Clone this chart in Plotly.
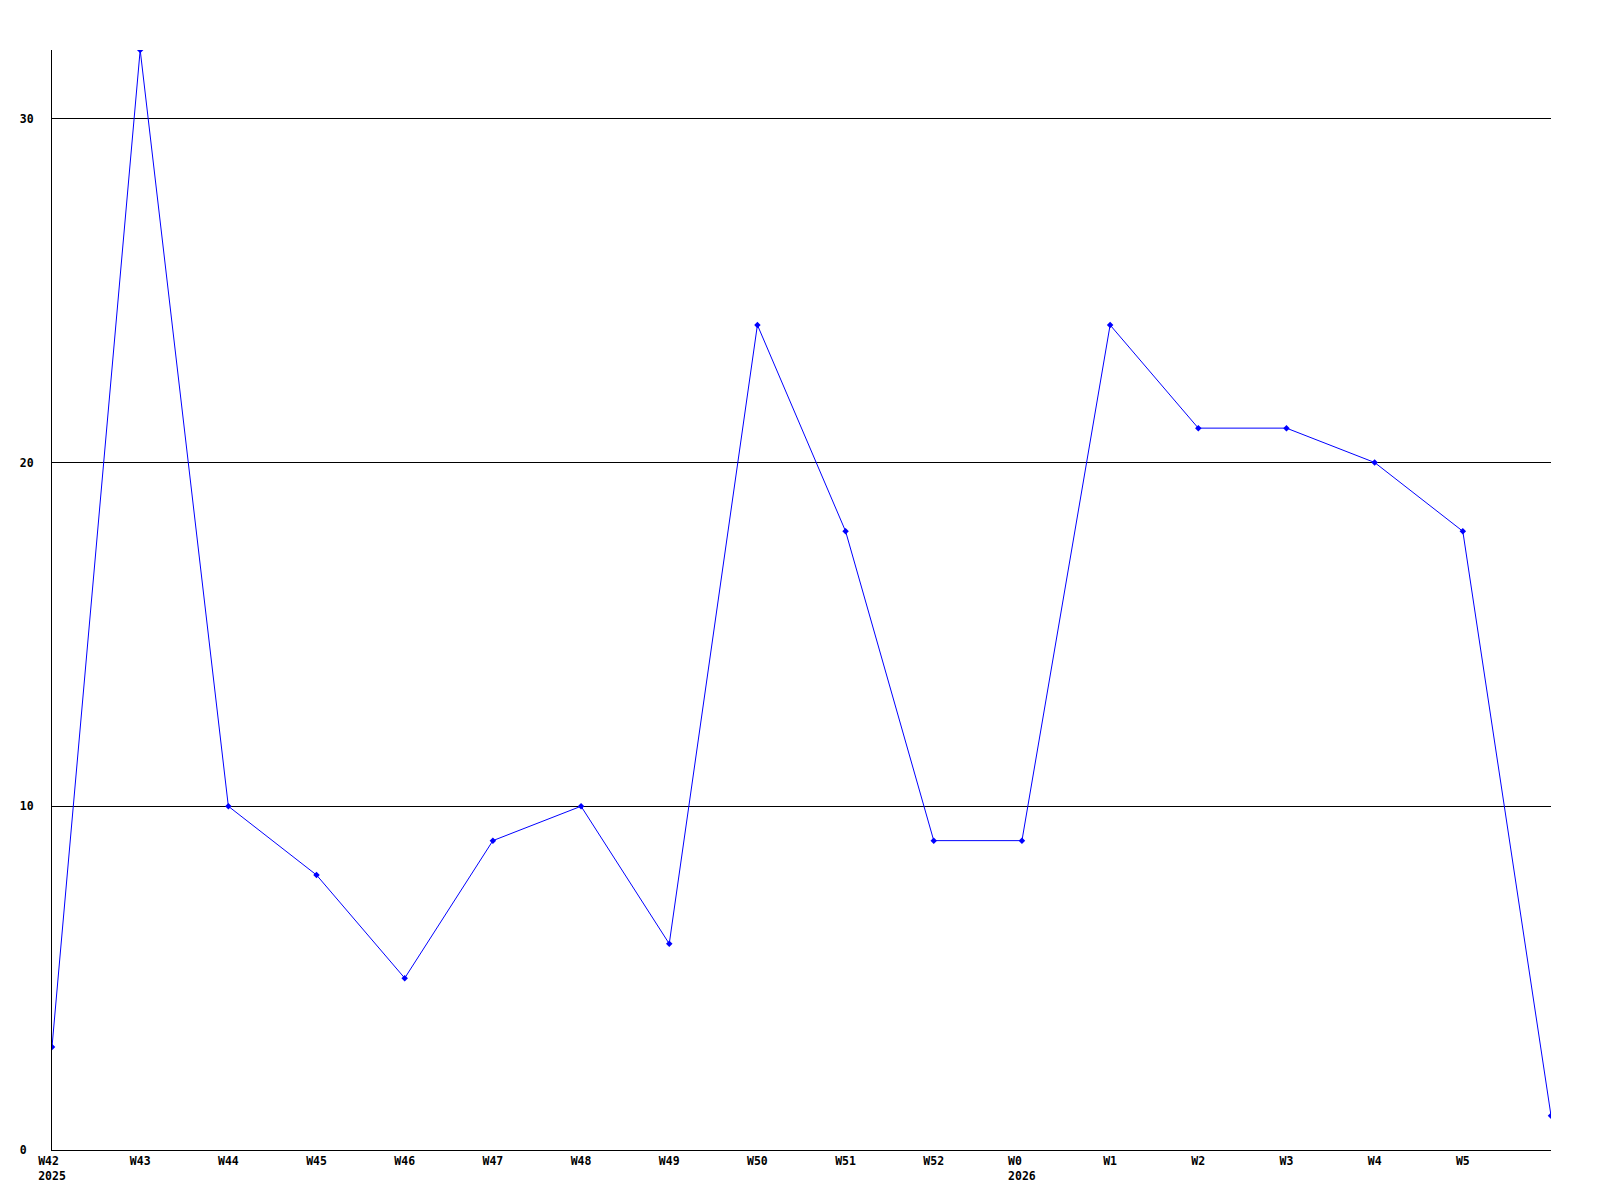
import plotly.graph_objects as go

weeks = ["W42", "W43", "W44", "W45", "W46", "W47", "W48", "W49", "W50", "W51",
         "W52", "W0", "W1", "W2", "W3", "W4", "W5", "W6"]
values = [3, 32, 10, 8, 5, 9, 10, 6, 24, 18, 9, 9, 24, 21, 21, 20, 18, 1]
tick_weeks = weeks[:-1]
tick_labels = ["W42\u00a0<br>2025", "W43", "W44", "W45", "W46", "W47", "W48", "W49",
               "W50", "W51", "W52", "W0\u00a0\u00a0<br>2026", "W1", "W2", "W3", "W4", "W5"]
y_ticks = [0, 10, 20, 30]
y_tick_labels = ["0\u00a0", "10", "20", "30"]

tfont = dict(family="DejaVu Sans Mono", size=11.5, color="black", weight="bold")

fig = go.Figure()
fig.add_trace(go.Scatter(
    x=weeks, y=values, mode="lines+markers",
    line=dict(color="#0000ff", width=1),
    marker=dict(symbol="diamond", size=5, color="#0000ff"),
    showlegend=False,
))

fig.update_layout(
    width=1600, height=1200,
    margin=dict(l=42, r=57, t=42, b=58),
    paper_bgcolor="white", plot_bgcolor="white",
    xaxis=dict(
        type="category", range=[0, 17],
        tickmode="array", tickvals=tick_weeks, ticktext=tick_labels,
        showgrid=False, zeroline=False,
        showline=True, linecolor="black", linewidth=1,
        ticks="", tickfont=tfont,
    ),
    yaxis=dict(
        range=[0, 32],
        tickmode="array", tickvals=y_ticks, ticktext=y_tick_labels,
        showgrid=True, gridcolor="black", gridwidth=1,
        zeroline=False,
        showline=True, linecolor="black", linewidth=1,
        ticks="", ticklabelstandoff=15,
        tickfont=tfont,
    ),
)

fig.write_html("out.html")
